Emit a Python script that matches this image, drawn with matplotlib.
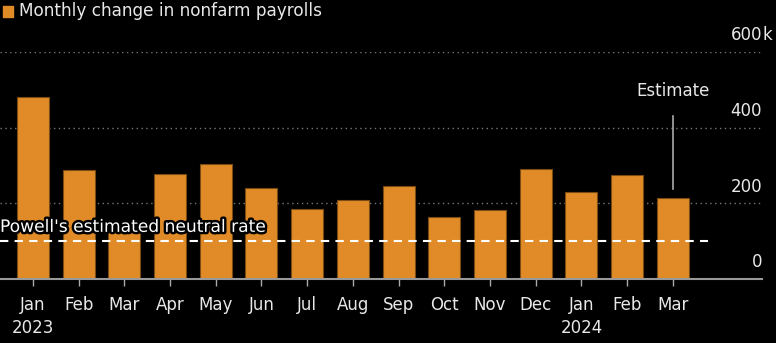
import matplotlib.pyplot as plt
import matplotlib.patheffects as pe
import numpy as np

months = ['Jan\n2023', 'Feb', 'Mar', 'Apr', 'May', 'Jun', 'Jul', 'Aug', 'Sep',
          'Oct', 'Nov', 'Dec', 'Jan\n2024', 'Feb', 'Mar']
payrolls = [482, 287, 146, 278, 303, 240, 184, 210, 246, 165, 182, 290, 229, 275, 214]
neutral_rate = 100
y_ticks = [0, 200, 400, 600]
y_labels = ['0', '200', '400', '600']

bar_color = '#e08b27'
text_color = '#e8e8e8'

fig = plt.figure(figsize=(7.76, 3.43), dpi=100, facecolor='black')
ax = fig.add_axes([0.0, 0.1866, 0.982, 0.6618], facecolor='black')

x_vals = np.arange(len(payrolls))
ax.bar(x_vals, payrolls, width=0.7, color=bar_color, edgecolor='#7a4c14',
       linewidth=0.8, zorder=2)

ax.set_xlim(-0.72, 15.95)
ax.set_ylim(0, 600)

# dotted gridlines, labels sit above them on the right
ytrans = ax.get_yaxis_transform()
for val, lab in zip(y_ticks, y_labels):
    if val > 0:
        ax.axhline(val, color='#777777', linestyle=(0, (1, 2.5)), linewidth=1, zorder=1)
    ax.text(1.0, val + 20, lab, color=text_color, fontsize=12,
            ha='right', va='bottom', transform=ytrans)
# unit suffix hangs past the right edge
ax.text(1.0, y_ticks[-1] + 20, 'k', color=text_color, fontsize=12,
        ha='left', va='bottom', transform=ytrans, clip_on=False)

# neutral rate line
ax.plot([-0.72, 14.77], [neutral_rate, neutral_rate], color='white',
        linestyle=(0, (4, 3)), linewidth=1.5, zorder=3)
ax.text(-0.72, neutral_rate + 14, "Powell's estimated neutral rate", color='white',
        fontsize=12.3, ha='left', va='bottom', zorder=4,
        path_effects=[pe.withStroke(linewidth=3.5, foreground='black')])

# estimate annotation
ax.plot([14, 14], [238, 430], color='#aaaaaa', linewidth=1.2, zorder=3)
ax.text(14, 497, 'Estimate', color=text_color, fontsize=12, ha='center', va='center')

ax.set_yticks([])
ax.set_xticks(x_vals)
ax.set_xticklabels(months, color=text_color, fontsize=12)
ax.tick_params(axis='x', colors='#aaaaaa', length=5, width=1, pad=7,
               labelcolor=text_color)
for lab in ax.get_xticklabels():
    lab.set_linespacing(1.4)

for side in ['top', 'right', 'left']:
    ax.spines[side].set_visible(False)
ax.spines['bottom'].set_color('#999999')
ax.spines['bottom'].set_linewidth(1.5)

# legend-like title
fig.patches.append(plt.Rectangle((3 / 776, 1 - 17 / 343), 10 / 776, 11 / 343,
                                 transform=fig.transFigure, color=bar_color))
fig.text(19 / 776, 1 - 11 / 343, 'Monthly change in nonfarm payrolls',
         color=text_color, fontsize=12.2, ha='left', va='center')

fig.savefig('out.png', dpi=100, facecolor='black')
